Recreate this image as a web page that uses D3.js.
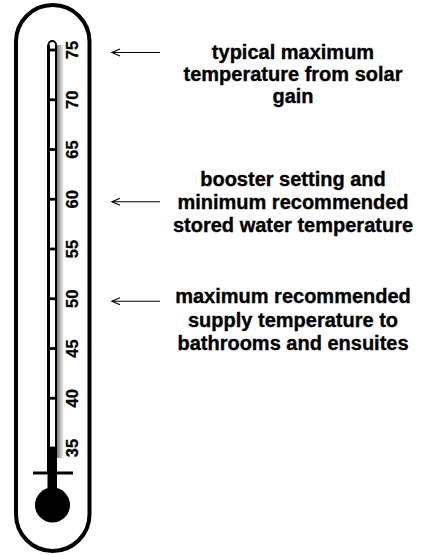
<!DOCTYPE html>
<html>
<head>
<meta charset="utf-8">
<script src="https://cdn.jsdelivr.net/npm/d3@7/dist/d3.min.js"></script>
<style>
  html, body { margin: 0; padding: 0; background: #fff; }
  svg { display: block; }
</style>
</head>
<body>
<svg id="chart" width="430" height="555"></svg>
<script>
// ---- data ----
const tickValues = [35, 40, 45, 50, 55, 60, 65, 70, 75];
const tickLabels = ["35", "40", "45", "50", "55", "60", "65", "70", "75"];
const mercuryValue = 35;
const annotationValues = [75, 60, 50];
const annotationLines = [
  ["typical maximum", "temperature from solar", "gain"],
  ["booster setting and", "minimum recommended", "stored water temperature"],
  ["maximum recommended", "supply temperature to", "bathrooms and ensuites"]
];

// ---- drawing ----
const svg = d3.select("#chart");
const y = d3.scaleLinear().domain([35, 75]).range([448, 50]);

const tubeL = 48.5, tubeR = 56, tubeTop = 41, barY = 473;

// gradient for the shadow
const defs = svg.append("defs");
const grad = defs.append("linearGradient").attr("id", "shadow")
  .attr("x1", "0%").attr("x2", "100%").attr("y1", "0%").attr("y2", "0%");
grad.append("stop").attr("offset", "0%").attr("stop-color", "#7a7a7a");
grad.append("stop").attr("offset", "100%").attr("stop-color", "#ffffff");

// outer capsule
svg.append("rect")
  .attr("x", 16).attr("y", 5)
  .attr("width", 73.5).attr("height", 546)
  .attr("rx", 36.75).attr("ry", 36.75)
  .attr("fill", "none").attr("stroke", "#000").attr("stroke-width", 4);

// shadow band to the right of tube
svg.append("rect")
  .attr("x", tubeR + 1).attr("y", tubeTop + 4)
  .attr("width", 7).attr("height", y(mercuryValue) - tubeTop + 6)
  .attr("fill", "url(#shadow)");

// tube interior & outline
svg.append("rect")
  .attr("x", tubeL).attr("y", tubeTop)
  .attr("width", tubeR - tubeL).attr("height", barY - tubeTop)
  .attr("rx", 3.7).attr("ry", 3.7)
  .attr("fill", "#fff").attr("stroke", "#000").attr("stroke-width", 2);
// thicker left wall
svg.append("line")
  .attr("x1", tubeL).attr("x2", tubeL)
  .attr("y1", tubeTop + 4).attr("y2", barY)
  .attr("stroke", "#000").attr("stroke-width", 3);

// mercury column
svg.append("rect")
  .attr("x", tubeL - 1).attr("y", y(mercuryValue))
  .attr("width", tubeR - tubeL + 2).attr("height", 500 - y(mercuryValue))
  .attr("fill", "#000");

// ticks
svg.selectAll("line.tick").data(tickValues).enter().append("line")
  .attr("class", "tick")
  .attr("x1", tubeL - 1.5).attr("x2", tubeR)
  .attr("y1", d => y(d)).attr("y2", d => y(d))
  .attr("stroke", "#000").attr("stroke-width", 2.8);

// tick labels (rotated)
svg.selectAll("text.tl").data(tickValues).enter().append("text")
  .attr("class", "tl")
  .attr("transform", d => `translate(78,${y(d)}) rotate(-90)`)
  .attr("text-anchor", "middle")
  .attr("font-family", "Liberation Sans, Arial, sans-serif")
  .attr("font-weight", "bold")
  .attr("font-size", 16.5)
  .attr("fill", "#000")
  .attr("stroke", "#000").attr("stroke-width", 0.3)
  .text((d, i) => tickLabels[i]);

// crossbar
svg.append("line")
  .attr("x1", 33).attr("x2", 73)
  .attr("y1", barY).attr("y2", barY)
  .attr("stroke", "#000").attr("stroke-width", 3);

// bulb
svg.append("circle")
  .attr("cx", 52.5).attr("cy", 505).attr("r", 17.5)
  .attr("fill", "#000");

// annotations
const ann = svg.selectAll("g.ann").data(annotationValues).enter().append("g")
  .attr("class", "ann");

ann.append("line")
  .attr("x1", 112).attr("x2", 160)
  .attr("y1", d => y(d) + 2.5).attr("y2", d => y(d) + 2.5)
  .attr("stroke", "#000").attr("stroke-width", 1.2);
ann.append("path")
  .attr("d", d => `M120,${y(d) + 2.5 - 3.5} L112,${y(d) + 2.5} L120,${y(d) + 2.5 + 3.5}`)
  .attr("fill", "none").attr("stroke", "#000").attr("stroke-width", 1.2);

const baseOffsets = [[9, 31, 53], [-13, 10, 33], [4.5, 28, 51.5]];
ann.each(function(d, i) {
  const g = d3.select(this);
  g.selectAll("text").data(annotationLines[i]).enter().append("text")
    .attr("x", 293)
    .attr("y", (t, j) => y(d) + baseOffsets[i][j])
    .attr("text-anchor", "middle")
    .attr("font-family", "Liberation Sans, Arial, sans-serif")
    .attr("font-weight", "bold")
    .attr("font-size", 20)
    .attr("fill", "#000")
    .attr("stroke", "#000").attr("stroke-width", 0.35)
    .text(t => t);
});
</script>
</body>
</html>
